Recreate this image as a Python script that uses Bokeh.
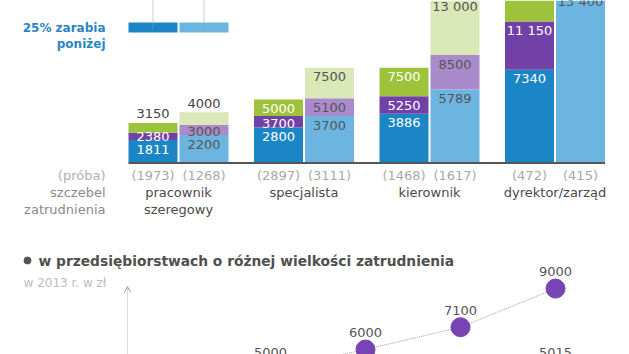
from bokeh.plotting import figure
from bokeh.models import Range1d, ColumnDataSource, Arrow, OpenHead
from bokeh.core.properties import value
from bokeh.embed import file_html
from bokeh.resources import INLINE

# ---------------- data ----------------
categories = ["pracownik\nszeregowy", "specjalista", "kierownik", "dyrektor/zarząd"]
sample_dark = [1973, 2897, 1468, 472]
sample_light = [1268, 3111, 1617, 415]
p25_dark = [1811, 2800, 3886, 7340]
p50_dark = [2380, 3700, 5250, 11150]
p75_dark = [3150, 5000, 7500, 15000]      # last one cut off in the picture (estimate)
p25_light = [2200, 3700, 5789, 13400]
p50_light = [3000, 5100, 8500, None]       # not visible
p75_light = [4000, 7500, 13000, None]      # not visible

size_series_a = [5000, 6000, 7100, 9000]
size_series_b = [None, None, None, 5015]

legend_text = ["25% zarabia", "poniżej"]
row_titles = ["(próba)", "szczebel", "zatrudnienia"]
title2 = "w przedsiębiorstwach o różnej wielkości zatrudnienia"
subtitle2 = "w 2013 r. w zł"

# ---------------- style ----------------
W, H = 629, 354
FONT = value("DejaVu Sans")
DARK = ["#1b85c6", "#7241a7", "#9dc33b"]
LIGHT = ["#6db5e1", "#a98bcb", "#d9e8b6"]
TXT_DARK = "#4a4a4a"
PURPLE_PT = "#7843b2"

# top chart geometry
X0_PX, GROUP_PX = 178.0, 125.5
BASE_PX, PX_PER_UNIT = 162.5, 0.0127
OFF = 25.5 / GROUP_PX
BW = 49.0 / GROUP_PX
UPP = 1.0 / PX_PER_UNIT


def px_x(px):
    return (px - X0_PX) / GROUP_PX


def px_y(py):
    return (BASE_PX - py) / PX_PER_UNIT


# bottom chart geometry
LX0_PX, LSTEP_PX = 270.0, 95.0
LREF_PX, LREF_VAL, LPX_PER_UNIT = 349.0, 6000.0, 0.0203

p = figure(width=W, height=H, output_backend="svg", toolbar_location=None,
           x_range=Range1d(-X0_PX / GROUP_PX, (W - X0_PX) / GROUP_PX),
           y_range=Range1d(-(H - BASE_PX) / PX_PER_UNIT, BASE_PX / PX_PER_UNIT),
           x_axis_location=None, y_axis_location=None, min_border=0)
p.outline_line_color = None
p.grid.visible = False
p.background_fill_color = "white"
p.border_fill_color = "white"

p.extra_x_ranges = {"lx": Range1d(-LX0_PX / LSTEP_PX, (W - LX0_PX) / LSTEP_PX)}
p.extra_y_ranges = {"ly": Range1d(LREF_VAL - (H - LREF_PX) / LPX_PER_UNIT,
                                  LREF_VAL + LREF_PX / LPX_PER_UNIT)}


def fmt(v):
    return f"{v:,}".replace(",", " ") if v >= 10000 else str(v)


# ---------------- stacked bars ----------------
bars = {"x": [], "bottom": [], "top": [], "color": []}
labels = {"x": [], "y": [], "text": [], "color": []}
for series, off, cols, txtcols in (
        ((p25_dark, p50_dark, p75_dark), -OFF, DARK, ["white", "white", "white"]),
        ((p25_light, p50_light, p75_light), OFF, LIGHT, ["#555555", "#555555", "#555555"])):
    for i in range(len(categories)):
        prev = 0
        for k, vals in enumerate(series):
            v = vals[i]
            if v is None:
                continue
            bars["x"].append(i + off)
            bars["bottom"].append(prev)
            bars["top"].append(v)
            bars["color"].append(cols[k])
            seg_px = (v - prev) * PX_PER_UNIT
            if k == 2 and seg_px < 14:
                ly, lc = v + 9 * UPP, "#444444"
            else:
                drop = min(9.0, max(3.0, seg_px - 4.0))
                ly, lc = v - drop * UPP, txtcols[k]
            if ly - 7 * UPP < BASE_PX / PX_PER_UNIT:
                labels["x"].append(i + off)
                labels["y"].append(ly)
                labels["text"].append(fmt(v))
                labels["color"].append(lc)
            prev = v

p.vbar(x="x", bottom="bottom", top="top", width=BW, color="color",
       line_color=None, source=ColumnDataSource(bars))
p.text(x="x", y="y", text="text", text_color="color", source=ColumnDataSource(labels),
       text_font=FONT, text_font_size="13px", text_align="center", text_baseline="middle")

# baseline
p.segment(x0=[-OFF - BW / 2], x1=[len(categories) - 1 + OFF + BW / 2], y0=[0], y1=[0],
          line_color="#555555", line_width=2)

# sample sizes
sx = [i - OFF for i in range(len(categories))] + [i + OFF for i in range(len(categories))]
st = [f"({n})" for n in sample_dark] + [f"({n})" for n in sample_light]
p.text(x=sx, y=[px_y(175)] * len(sx), text=st, text_color="#a8a8a8",
       text_font=FONT, text_font_size="13px", text_align="center", text_baseline="middle")

# category labels
for line_no, py in ((0, 192), (1, 209)):
    cx, ct = [], []
    for i, c in enumerate(categories):
        parts = c.split("\n")
        if line_no < len(parts):
            cx.append(i)
            ct.append(parts[line_no])
    p.text(x=cx, y=[px_y(py)] * len(cx), text=ct, text_color=TXT_DARK,
           text_font=FONT, text_font_size="13px", text_align="center", text_baseline="middle")

# row titles on the left
p.text(x=[px_x(105)] * 3, y=[px_y(175), px_y(192), px_y(209)], text=row_titles,
       text_color=["#b0b0b0", "#8a8a8a", "#8a8a8a"], text_font=FONT, text_font_size="13px",
       text_align="right", text_baseline="middle")

# legend (partially visible)
p.vbar(x=[-OFF, OFF], bottom=[px_y(32)] * 2, top=[px_y(22)] * 2, width=BW,
       color=[DARK[0], LIGHT[0]], line_color=None)
p.segment(x0=[-OFF, OFF], x1=[-OFF, OFF], y0=[px_y(0)] * 2, y1=[px_y(29)] * 2,
          line_color="#9a9a9a", line_width=1, line_dash="1 1")
p.text(x=[px_x(105)] * 2, y=[px_y(27), px_y(43)], text=legend_text, text_color="#2a86c4",
       text_font=FONT, text_font_size="12px", text_font_style="bold",
       text_align="right", text_baseline="middle")

# ---------------- bottom chart ----------------
p.scatter(x=[px_x(27)], y=[px_y(260)], size=7, color="#555555")
p.text(x=[px_x(38)], y=[px_y(260)], text=[title2], text_color="#505050",
       text_font=FONT, text_font_size="13.8px", text_font_style="bold",
       text_align="left", text_baseline="middle")
p.text(x=[px_x(23)], y=[px_y(282)], text=[subtitle2], text_color="#bdbdbd",
       text_font=FONT, text_font_size="12px", text_align="left", text_baseline="middle")

ly_top = LREF_VAL + (LREF_PX - 286) / LPX_PER_UNIT
ly_bot = LREF_VAL - (H - LREF_PX) / LPX_PER_UNIT
ax_x = (127 - LX0_PX) / LSTEP_PX
p.add_layout(Arrow(end=OpenHead(size=6, line_color="#9a9a9a", line_width=1),
                   x_start=ax_x, y_start=ly_bot, x_end=ax_x, y_end=ly_top,
                   line_color="#b0b0b0", line_width=1, line_dash="1 1",
                   x_range_name="lx", y_range_name="ly"))

ax = list(range(len(size_series_a)))
p.line(x=ax, y=size_series_a, line_color="#a0a0a0", line_width=1, line_dash="1 1",
       x_range_name="lx", y_range_name="ly")
p.scatter(x=ax, y=size_series_a, size=19, color=PURPLE_PT, x_range_name="lx", y_range_name="ly")
lab_off = 17 / LPX_PER_UNIT
p.text(x=ax, y=[v + lab_off for v in size_series_a], text=[fmt(v) for v in size_series_a],
       text_color="#555555", text_font=FONT, text_font_size="13px",
       text_align="center", text_baseline="middle", x_range_name="lx", y_range_name="ly")
bx = [i for i, v in enumerate(size_series_b) if v is not None]
bv = [v for v in size_series_b if v is not None]
p.scatter(x=bx, y=bv, size=19, color="#1b85c6", x_range_name="lx", y_range_name="ly")
p.text(x=bx, y=[v + lab_off for v in bv], text=[fmt(v) for v in bv],
       text_color="#555555", text_font=FONT, text_font_size="13px",
       text_align="center", text_baseline="middle", x_range_name="lx", y_range_name="ly")

open("out.html", "w").write(file_html(p, INLINE))
